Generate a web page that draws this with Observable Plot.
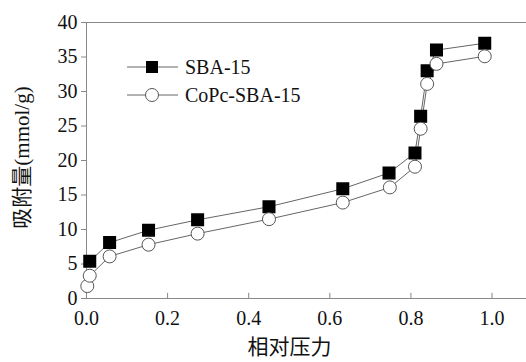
<!DOCTYPE html>
<html><head><meta charset="utf-8">
<script src="https://cdn.jsdelivr.net/npm/d3@7"></script>
<script src="https://cdn.jsdelivr.net/npm/@observablehq/plot@0.6"></script>
<style>
html,body{margin:0;padding:0;background:#fff;}
svg, svg text{font-family:"Liberation Serif","Times New Roman","Noto Sans CJK SC",serif !important;}
</style></head>
<body><div id="chart"></div>
<script>
const seriesNames = ["SBA-15", "CoPc-SBA-15"];
const sbaX = [0.008, 0.057, 0.153, 0.274, 0.45, 0.632, 0.746, 0.81, 0.824, 0.84, 0.863, 0.982];
const sbaY = [5.4, 8.1, 9.9, 11.4, 13.3, 15.9, 18.2, 21.1, 26.4, 33.0, 36.0, 37.0];
const copcX = [0.002, 0.008, 0.057, 0.153, 0.274, 0.45, 0.632, 0.748, 0.81, 0.824, 0.84, 0.863, 0.982];
const copcY = [1.8, 3.3, 6.1, 7.8, 9.4, 11.5, 13.9, 16.1, 19.1, 24.6, 31.1, 34.0, 35.1];
const xTicks = [0, 0.2, 0.4, 0.6, 0.8, 1.0];
const yTicks = [0, 5, 10, 15, 20, 25, 30, 35, 40];
const xTitle = "相对压力";
const yTitle = "吸附量(mmol/g)";

const sba = sbaX.map((x, i) => ({x, y: sbaY[i]}));
const copc = copcX.map((x, i) => ({x, y: copcY[i]}));
const axisColor = "#888";
const lineColor = "#666";

const chart = Plot.plot({
  width: 526, height: 362,
  marginLeft: 86, marginTop: 22, marginBottom: 64, marginRight: 0,
  style: {fontSize: "20px", color: "#111", background: "#fff"},
  x: {domain: [0, 1.085]},
  y: {domain: [0, 40]},
  marks: [
    Plot.ruleY([40], {stroke: axisColor}),
    Plot.ruleY([0], {stroke: axisColor}),
    Plot.ruleX([0], {stroke: axisColor}),
    Plot.ruleX(xTicks.slice(1), {y1: 0, y2: 0.75, stroke: axisColor}),
    Plot.axisX({ticks: xTicks, tickSize: 0, tickPadding: 12, tickFormat: d3.format(".1f"), label: null, fontSize: 20, fill: "#111"}),
    Plot.axisY({ticks: yTicks, tickSize: 5, tickPadding: 4, stroke: axisColor, label: null, fontSize: 20, fill: "#111"}),
    Plot.line(sba, {x: "x", y: "y", stroke: lineColor, strokeWidth: 1}),
    Plot.line(copc, {x: "x", y: "y", stroke: lineColor, strokeWidth: 1}),
    Plot.dot(sba, {x: "x", y: "y", symbol: "square", r: 6.5, fill: "#000", stroke: "#000"}),
    Plot.dot(copc, {x: "x", y: "y", symbol: "circle", r: 6.5, fill: "#fff", stroke: "#555", strokeWidth: 1}),
    Plot.text([yTitle], {frameAnchor: "left", textAnchor: "middle", dx: -64, dy: -3, rotate: -90, fontSize: 21, fill: "#111"}),
    Plot.text([xTitle], {frameAnchor: "bottom", textAnchor: "middle", dx: -17, dy: 55, fontSize: 21, fill: "#111"})
  ]
});
document.getElementById("chart").appendChild(chart);

// legend
const svg = d3.select(chart);
const lg = svg.append("g");
const items = [
  {name: seriesNames[0], y: 67, sym: "square"},
  {name: seriesNames[1], y: 95, sym: "circle"}
];
items.forEach(it => {
  lg.append("line").attr("x1", 127).attr("x2", 178).attr("y1", it.y).attr("y2", it.y).attr("stroke", lineColor);
  if (it.sym === "square") {
    lg.append("rect").attr("x", 146).attr("y", it.y - 6).attr("width", 12).attr("height", 12).attr("fill", "#000");
  } else {
    lg.append("circle").attr("cx", 152).attr("cy", it.y).attr("r", 6.5).attr("fill", "#fff").attr("stroke", "#555");
  }
  lg.append("text").attr("x", 185).attr("y", it.y).attr("dy", "0.35em").attr("text-anchor", "start")
    .attr("font-size", 20).attr("fill", "#111").text(it.name);
});
</script>
</body></html>
